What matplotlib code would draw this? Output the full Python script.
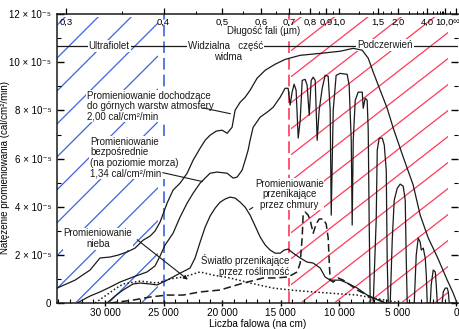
import numpy as np
import matplotlib
matplotlib.use('Agg')
import matplotlib.pyplot as plt
from matplotlib.patches import Rectangle
from matplotlib.ticker import FixedLocator

plt.rcParams['font.family'] = ['Liberation Sans Narrow', 'Liberation Sans', 'DejaVu Sans']

# ---- data: wavenumber (cm^-1) and irradiance (x 1e-5 cal/cm2/min) ----
top_wn = [34100, 32560, 31280, 30430, 29570, 28890, 28120, 27440, 26750, 26150, 25730, 25300,
          24700, 24190, 23590, 22990, 22480, 21880, 21450, 21030, 20510, 20000, 19570, 19150,
          18890, 18460, 18030, 17610, 17010, 16320, 15470, 14620, 13330, 11620, 9910, 8800,
          8030, 7520, 7090, 6500, 5900, 5380, 4530, 3680, 3080, 2390, 1620, 770, 260, 0]
top_val = [0.62, 0.95, 1.37, 1.87, 1.91, 1.99, 2.12, 2.28, 2.61, 2.78, 2.99, 3.36,
           4.15, 4.69, 4.98, 5.39, 5.93, 6.43, 6.76, 6.97, 7.14, 7.18, 7.05, 7.30,
           8.01, 8.34, 8.55, 8.84, 9.34, 9.67, 9.92, 10.12, 10.29, 10.37, 10.46, 10.58,
           10.50, 10.17, 9.59, 8.84, 8.09, 7.26, 6.06, 4.90, 3.65, 2.70, 1.91, 0.95, 0.41, 0.08]

direct_wn = [32390, 31280, 30430, 29570, 28720, 27610, 26410, 25730, 25300, 24870, 24190, 23590,
             22990, 22480, 21880, 21450, 21030, 20430, 19570, 19060, 18720, 18290, 18030, 17780,
             17610, 17350, 16750, 16150, 15640, 15040, 14620, 14360, 14190, 14020, 13850, 13680,
             13500, 13330, 13160, 12910, 12740, 12560, 12390, 12220, 12050, 11880, 11710, 11450,
             11200, 10940, 10770, 10680, 10510, 10260, 9910, 9320, 9150, 8970, 8890, 8800,
             8630, 8380, 8030, 7950, 7780, 7610, 7520, 7440, 7350, 7090, 6840, 6750,
             6580, 6320, 6150, 5980, 5900, 5810, 5640, 5470, 5300, 5040, 4790, 4530,
             4360, 4270, 4190, 3590, 3420, 3250, 3080, 2990, 2820, 2650, 2560, 2480,
             2220, 2140, 1970, 1790, 1710, 1620, 1200, 1110, 940, 770, 680, 600, 0]
direct_val = [0.0, 0.29, 0.46, 0.66, 0.87, 1.08, 1.29, 1.54, 1.95, 2.41, 2.90, 3.57,
              4.15, 4.56, 4.98, 5.19, 5.39, 5.44, 5.39, 5.19, 5.23, 5.52, 5.93, 6.35,
              6.76, 7.30, 7.72, 7.93, 8.13, 8.55, 8.92, 8.92, 8.22, 8.76, 9.09, 8.84,
              6.85, 7.59, 9.25, 9.29, 9.05, 7.80, 9.25, 9.38, 9.25, 6.76, 8.01, 8.92,
              9.46, 9.42, 8.01, 3.65, 8.01, 9.46, 9.54, 9.50, 9.05, 6.76, 3.24, 6.76,
              8.42, 8.76, 8.76, 8.09, 8.51, 8.42, 7.18, 3.44, 0.0, 0.0, 3.44, 6.35,
              6.85, 6.85, 6.56, 5.52, 1.78, 0.0, 0.0, 2.61, 4.27, 4.77, 4.94, 4.85,
              4.27, 1.78, 0.0, 0.0, 1.99, 2.70, 2.53, 2.20, 2.28, 1.87, 1.16, 0.0,
              0.0, 0.75, 1.37, 1.29, 0.75, 0.0, 0.0, 0.46, 0.62, 0.62, 0.46, 0.0, 0.0]

cloud_wn = [29830, 29150, 28460, 27610, 27010, 26150, 25560, 24700, 23590, 22740, 22310, 21880,
            21450, 21030, 20600, 20170, 19740, 19320, 18890, 18460, 18030, 17610, 17180, 16750,
            16320, 15900, 15470, 15040, 14700, 14360, 13930, 13330, 12740, 12220, 11620, 11200,
            10770, 9910, 9320, 8460, 7610, 6920, 6070]
cloud_val = [0.0, 0.29, 0.54, 0.79, 0.83, 0.79, 0.75, 0.95, 1.24, 1.45, 1.87, 2.53,
             3.15, 3.61, 3.94, 4.19, 4.32, 4.40, 4.36, 4.19, 3.98, 3.65, 3.20, 2.74,
             2.41, 2.20, 2.07, 2.07, 2.20, 2.24, 2.07, 1.87, 1.70, 1.66, 1.45, 1.08,
             0.95, 0.95, 0.83, 0.62, 0.33, 0.17, 0.0]

sky_wn = [30850, 30000, 29150, 28460, 27010, 25560, 24440, 23330, 21880, 20770, 19320, 17610,
          15640, 14190, 12220, 10770, 8460, 7090, 5640, 4790]
sky_val = [0.0, 0.29, 0.58, 0.79, 0.91, 0.83, 1.00, 1.08, 1.29, 1.16, 1.04, 0.83,
           0.62, 0.54, 0.46, 0.41, 0.33, 0.21, 0.08, 0.0]

veg_wn = [29570, 27610, 26150, 24700, 23330, 21880, 20170, 18460, 16500, 15470, 14360, 13590,
          13330, 13160, 13080, 12910, 12650, 12480, 12220, 11970, 11710, 11370, 11110, 10940,
          10850, 10770, 10510, 10090, 9660, 9060, 8460, 7950, 7350, 6750, 6070]
veg_val = [0.0, 0.12, 0.25, 0.33, 0.33, 0.46, 0.54, 0.79, 1.04, 1.04, 1.08, 1.29,
           1.66, 2.74, 3.65, 3.78, 3.65, 3.44, 2.90, 3.28, 3.49, 3.49, 3.28, 2.70,
           1.70, 0.95, 0.87, 1.04, 0.95, 0.75, 0.54, 0.41, 0.25, 0.17, 0.0]

x_major = [30000, 25000, 20000, 15000, 10000, 5000, 0]
x_major_labels = ['30 000', '25 000', '20 000', '15 000', '10 000', '5 000', '0']
y_major = [0, 2, 4, 6, 8, 10, 12]
y_major_labels = ['0'] + ['%d × 10⁻⁵' % v for v in y_major[1:]]
wl_ticks = [0.3, 0.4, 0.5, 0.6, 0.7, 0.8, 0.9, 1.0, 1.5, 2.0, 4.0, 10.0]
wl_labels = ['0,3', '0,4', '0,5', '0,6', '0,7', '0,8', '0,9', '1,0', '1,5', '2,0', '4,0', '10,0']
wl_minor = [0.35, 0.45, 0.55, 0.65, 0.75, 0.85, 0.95, 1.2, 1.4, 1.6, 1.8, 2.5, 3.0, 3.5,
            5.0, 6.0, 7.0, 8.0, 9.0, 20.0]
UV_LIMIT = 25000
IR_LIMIT = 10000 / 0.7

BLUE = '#3c64dc'
RED = '#ff3a5a'
INK = '#1a1a1a'

XMAX, XMIN = 34100, -150
fig = plt.figure(figsize=(4.6, 3.29), dpi=100)
ax = fig.add_axes([0.124, 0.079, 0.8717, 0.878])
ax.set_xlim(XMAX, XMIN)
ax.set_ylim(0, 12)


def frac(wn):
    return (XMAX - wn) / (XMAX - XMIN)


def hatch(x0, x1, slope, spacing, anchor_x, anchor_y, color):
    rect = Rectangle((x0, 0.004), x1 - x0, 0.985, transform=ax.transAxes,
                     facecolor='none', edgecolor='none')
    ax.add_patch(rect)
    c0 = anchor_y - slope * (anchor_x - x0)
    k0 = int(np.ceil((c0 + slope * (x1 - x0)) / spacing)) + 1
    for k in range(-k0, k0 + 20):
        c = c0 + k * spacing
        ys = np.array([c, c + slope * (x1 - x0)])
        ln, = ax.plot([x0, x1], ys, transform=ax.transAxes, color=color, lw=0.9, zorder=1)
        ln.set_clip_path(rect)


hatch(0.0, frac(UV_LIMIT) - 0.015, 1.387, 0.114, 0.0, 0.848, BLUE)
hatch(frac(IR_LIMIT) + 0.006, 0.975, 1.08, 0.09, 0.973, 0.754, RED)

ax.axvline(UV_LIMIT, color=BLUE, lw=1.2, ls=(0, (7, 3)), zorder=1.5)
ax.axvline(IR_LIMIT, color=RED, lw=1.2, ls=(0, (7, 3)), zorder=1.5)

# region band line
ax.plot([0, 1], [0.889, 0.889], transform=ax.transAxes, color=INK, lw=0.9, zorder=1.6)

# curves
ax.plot(top_wn, top_val, color=INK, lw=0.9, zorder=4)
ax.plot(direct_wn, direct_val, color=INK, lw=0.9, zorder=4)
ax.plot(cloud_wn, cloud_val, color=INK, lw=0.9, zorder=4)
ax.plot(sky_wn, sky_val, color=INK, lw=1.1, ls=(0, (1, 1.5)), zorder=4)
ax.plot(veg_wn, veg_val, color=INK, lw=1.1, ls=(0, (5, 2.5)), zorder=4)

tkw = dict(fontsize=7.0, color=INK, zorder=3,
           bbox=dict(facecolor='white', edgecolor='none', pad=0.6))
T = ax.transAxes
ax.text(0.075, 0.735, 'Promieniowanie dochodzące\ndo górnych warstw atmosfery\n2,00 cal/cm²/min',
        transform=T, ha='left', va='top', linespacing=1.05, **tkw)
ax.text(0.082, 0.575, 'Promieniowanie\nbezpośrednie\n(na poziomie morza)\n1,34 cal/cm²/min',
        transform=T, ha='left', va='top', linespacing=1.05, **tkw)
ax.text(0.579, 0.43, 'Promieniowanie\nprzenikające\nprzez chmury',
        transform=T, ha='center', va='top', linespacing=1.05, **tkw)
ax.text(0.102, 0.258, 'Promieniowanie\nnieba',
        transform=T, ha='center', va='top', linespacing=1.05, **tkw)
ax.text(0.579, 0.168, 'Światło przenikające\nprzez roślinność',
        transform=T, ha='right', va='top', linespacing=1.05, multialignment='right', **tkw)

ax.text(0.13, 0.889, 'Ultrafiolet', transform=T, ha='center', va='center', **tkw)
ax.text(0.421, 0.889, 'Widzialna   część', transform=T, ha='center', va='center', **tkw)
ax.text(0.426, 0.852, 'widma', transform=T, ha='center', va='center', **tkw)
ax.text(0.818, 0.892, 'Podczerwień', transform=T, ha='center', va='center', **tkw)
ax.text(0.514, 0.94, 'Długość fali (µm)', transform=T, ha='center', va='center', **tkw)

# pointer lines
ax.annotate('', xy=(19060, 7.84), xytext=(21880, 8.13),
            arrowprops=dict(arrowstyle='-', color=INK, lw=0.8))
ax.annotate('', xy=(21450, 5.02), xytext=(25300, 5.44),
            arrowprops=dict(arrowstyle='-', color=INK, lw=0.8))
ax.annotate('', xy=(22740, 0.90), xytext=(27440, 2.70),
            arrowprops=dict(arrowstyle='-|>', color=INK, lw=0.8, mutation_scale=6))
ax.annotate('', xy=(17870, 3.82), xytext=(17180, 4.03),
            arrowprops=dict(arrowstyle='-', color=INK, lw=0.8))

# axes styling
for s in ['left', 'bottom', 'top']:
    ax.spines[s].set_linewidth(1.1)
    ax.spines[s].set_color(INK)
ax.spines['right'].set_visible(False)
ax.xaxis.set_major_locator(FixedLocator(x_major))
ax.set_xticklabels(x_major_labels)
ax.xaxis.set_minor_locator(FixedLocator(list(range(1000, 34001, 1000))))
ax.yaxis.set_major_locator(FixedLocator(y_major))
ax.set_yticklabels(y_major_labels)
ax.yaxis.set_minor_locator(FixedLocator(list(range(1, 12, 2))))
ax.tick_params(axis='x', which='major', direction='inout', length=5, width=1, labelsize=7.2, pad=1)
ax.tick_params(axis='x', which='minor', direction='in', length=3, width=0.8)
ax.tick_params(axis='y', which='major', direction='in', length=5, width=1, labelsize=7.0, pad=4,
               right=True)
ax.tick_params(axis='y', which='minor', direction='in', length=3, width=0.8, right=True)

ax.set_xlabel('Liczba falowa (na cm)', fontsize=7.2, labelpad=1)
ax.set_ylabel('Natężenie promieniowania (cal/cm²/min)', fontsize=7.0)
ax.yaxis.set_label_coords(-0.118, 0.47)

# top wavelength axis
top = ax.twiny()
top.set_xlim(ax.get_xlim())
top.xaxis.set_major_locator(FixedLocator([10000 / w for w in wl_ticks] + [0]))
top.set_xticklabels(wl_labels + [''])
top.xaxis.set_minor_locator(FixedLocator([10000 / w for w in wl_minor]))
top.tick_params(axis='x', which='major', direction='out', length=4, width=0.9,
                labelsize=6.8, pad=-13)
top.tick_params(axis='x', which='minor', direction='out', length=2.5, width=0.7)
for s in top.spines.values():
    s.set_visible(False)
fig.text(0.998, 0.935, '∞', ha='right', va='center', fontsize=6.8, color=INK)

fig.savefig('out.png', dpi=100)
